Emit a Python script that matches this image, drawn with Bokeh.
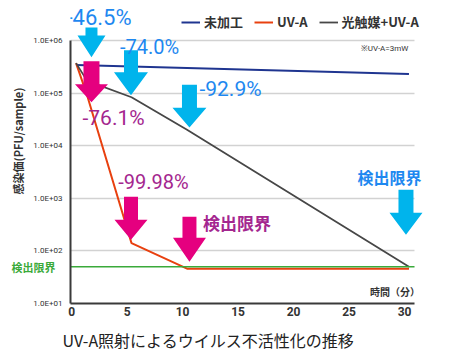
import math
from bokeh.plotting import figure
from bokeh.models import (Range1d, FixedTicker, Label, Legend, LegendItem,
                          ColumnDataSource, LogAxis, Title)
from bokeh.embed import file_html
from bokeh.resources import INLINE

# ---------------- data ----------------
series_names = ["未加工", "UV-A", "光触媒+UV-A"]
minutes_untreated = [0.4, 30.4]
pfu_untreated = [3.4e5, 2.3e5]
minutes_uva = [0.4, 1.4, 5.4, 10.4, 30.4]
pfu_uva = [3.7e5, 9.0e4, 1.4e2, 46, 46]
minutes_photo = [0.4, 1.4, 5.4, 10.4, 30.4]
pfu_photo = [3.7e5, 1.7e5, 8.3e4, 2.0e4, 50]
detection_limit = 50
x_ticks = [0, 5, 10, 15, 20, 25, 30]
y_ticks = [10, 100, 1000, 10000, 100000, 1000000]
y_tick_labels = ["1.0E+01", "1.0E+02", "1.0E+03", "1.0E+04", "1.0E+05", "1.0E+06"]

# callouts: (x in minutes, tip value, colour kind)
arrow_x = [1.79, 5.35, 10.62, 30.13, 1.79, 5.35, 10.62]
arrow_tip = [4.77e5, 9.1e4, 2.2e4, 203, 6.7e4, 163, 62.4]
arrow_kind = ["cyan", "cyan", "cyan", "cyan", "pink", "pink", "pink"]
# shape sizes in pixels: total length, head length, head width, shaft width
arrow_shape = [(30, 22, 28, 12), (45, 23, 34, 14), (43, 20, 34, 15), (45, 22, 33, 15),
               (41, 18, 33, 16), (43, 20, 33, 14), (45, 24, 33, 14)]

CJK = "Noto Sans CJK JP"
NUM = "Roboto"
BLUE_TXT = "#1e88f0"
PURPLE_TXT = "#a4278f"
CYAN = "#00b4ec"
PINK = "#e5007f"
GREEN = "#3aaa3a"

X0, X1 = -0.1, 32.34
AXIS_END = 30.9
Y0, Y1 = 10, 5.73e6
FRAME_W, FRAME_H = 360, 304
PX_PER_MIN = FRAME_W / (X1 - X0)
PX_PER_DEC = FRAME_H / (math.log10(Y1) - math.log10(Y0))

p = figure(width=450, height=359, y_axis_type="log",
           x_range=Range1d(X0, X1), y_range=Range1d(Y0, Y1),
           output_backend="svg", toolbar_location=None,
           min_border_left=70, min_border_right=20, min_border_top=0, min_border_bottom=55)
p.outline_line_color = None
p.background_fill_color = "white"
p.border_fill_color = "white"
p.xgrid.visible = False

ya = p.yaxis[0]
xa = p.xaxis[0]
yt = FixedTicker(ticks=y_ticks)
ya.ticker = yt
p.ygrid.ticker = yt
p.ygrid.grid_line_color = "#d2d2d2"
p.ygrid.grid_line_width = 1.5
if hasattr(p.ygrid[0], "cross_bounds"):
    p.ygrid[0].cross_bounds = (X0, AXIS_END)
ya.major_label_overrides = {t: l for t, l in zip(y_ticks, y_tick_labels)}
ya.bounds = (10, 1e6)
xa.ticker = FixedTicker(ticks=x_ticks)
xa.bounds = (X0, AXIS_END)

for ax in (xa, ya):
    ax.axis_line_color = "#3a3a3a"
    ax.axis_line_width = 2
    ax.major_tick_line_color = None
    ax.minor_tick_line_color = None
    ax.major_tick_out = 0
    ax.major_tick_in = 0
    ax.minor_tick_out = 0
    ax.minor_tick_in = 0
    ax.major_label_text_color = "#333333"

ya.major_label_text_font = NUM
ya.major_label_text_font_size = "8px"
ya.major_label_standoff = 8
# two ideographic spaces lift the centred title to where the reference has it
ya.axis_label = "\u3000\u3000感染価(PFU/sample)"
ya.axis_label_text_font = CJK
ya.axis_label_text_font_size = "11px"
ya.axis_label_text_font_style = "bold"
ya.axis_label_text_color = "#333333"
ya.axis_label_standoff = 4

xa.major_label_text_font = NUM
xa.major_label_text_font_size = "12px"
xa.major_label_text_font_style = "bold"
xa.major_label_standoff = 3

# second left axis: only the green detection-limit label
ga = LogAxis(ticker=FixedTicker(ticks=[detection_limit]),
             major_label_overrides={detection_limit: "検出限界"},
             axis_line_color=None, major_tick_line_color=None, minor_tick_line_color=None,
             major_tick_out=0, major_tick_in=0, minor_tick_out=0, minor_tick_in=0,
             major_label_standoff=-48, major_label_text_color=GREEN,
             major_label_text_font=CJK, major_label_text_font_size="11px",
             major_label_text_font_style="bold")
p.add_layout(ga, "left")

# series lines
r_untreated = p.line(minutes_untreated, pfu_untreated, line_color="#1f3590", line_width=2)
r_uva = p.line(minutes_uva, pfu_uva, line_color="#e8400f", line_width=2)
r_photo = p.line(minutes_photo, pfu_photo, line_color="#474747", line_width=1.8)
p.line([X0, AXIS_END], [detection_limit, detection_limit], line_color=GREEN, line_width=1.5)

# block arrows
xs, ys, cols = [], [], []
for x, tip, kind, (L, H, W, S) in zip(arrow_x, arrow_tip, arrow_kind, arrow_shape):
    pts = [(0, 0), (W / 2, H), (S / 2, H), (S / 2, L), (-S / 2, L), (-S / 2, H), (-W / 2, H)]
    lt = math.log10(tip)
    xs.append([x + dx / PX_PER_MIN for dx, dy in pts])
    ys.append([10 ** (lt + dy / PX_PER_DEC) for dx, dy in pts])
    cols.append(CYAN if kind == "cyan" else PINK)
p.patches("xs", "ys", fill_color="cols", line_color=None,
          source=ColumnDataSource(dict(xs=xs, ys=ys, cols=cols)))

# legend
legend = Legend(items=[LegendItem(label=series_names[0], renderers=[r_untreated]),
                       LegendItem(label=series_names[1], renderers=[r_uva]),
                       LegendItem(label=series_names[2], renderers=[r_photo])],
                orientation="horizontal", location=(111, 272), padding=0, margin=0,
                spacing=11, glyph_width=19, glyph_height=14, label_height=14,
                label_standoff=4, label_text_font=CJK, label_text_font_size="13px",
                label_text_font_style="bold", label_text_color="#333333",
                border_line_color=None, background_fill_alpha=0)
p.add_layout(legend)


def lab(text, x, y, size, color, font=CJK, style="normal", align="center"):
    p.add_layout(Label(x=x, y=y, text=text, text_font=font, text_font_size=size,
                       text_color=color, text_font_style=style, text_align=align,
                       text_baseline="middle"))


lab("-46.5%", 2.47, 2.67e6, "22px", BLUE_TXT, font=NUM)
lab("-74.0%", 7.02, 7.53e5, "20px", BLUE_TXT, font=NUM)
lab("-92.9%", 14.32, 1.2e5, "21px", BLUE_TXT, font=NUM)
lab("-76.1%", 3.78, 3.4e4, "21px", PURPLE_TXT, font=NUM)
lab("-99.98%", 7.38, 2.0e3, "20px", PURPLE_TXT, font=NUM)
lab("検出限界", 28.65, 2.5e3, "16px", BLUE_TXT, style="bold")
lab("検出限界", 14.9, 350, "17px", PURPLE_TXT, style="bold")
lab("時間（分）", 29.13, 16.9, "10px", "#333333", style="bold")
lab("※UV-A=3mW", 28.2, 7.05e5, "8px", "#333333", font=NUM)

p.add_layout(Title(text="UV-A照射によるウイルス不活性化の推移", align="left", offset=-8,
                   standoff=15, text_font=CJK, text_font_size="16px",
                   text_font_style="normal", text_color="#222222"), "below")

open("out.html", "w").write(file_html(p, INLINE))
